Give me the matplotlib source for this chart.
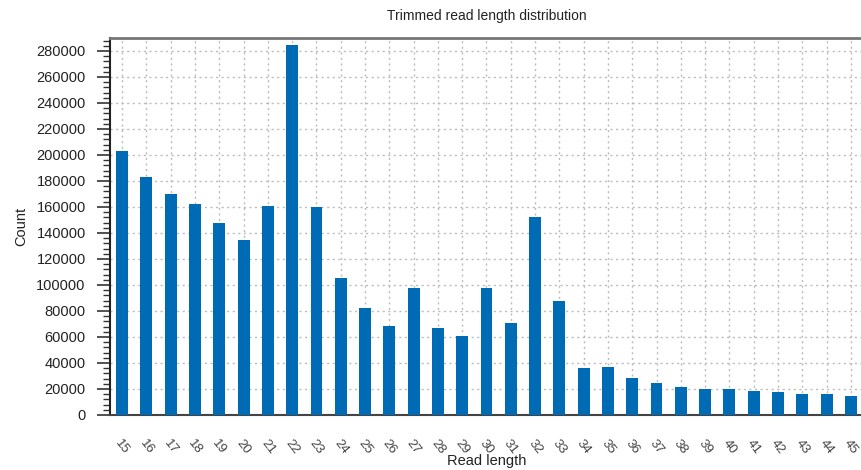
import numpy as np
import matplotlib
matplotlib.use('Agg')
import matplotlib.pyplot as plt
from matplotlib.ticker import MultipleLocator

plt.rcParams['font.family'] = ['Liberation Sans', 'DejaVu Sans']

# read lengths and counts
read_length = list(range(15, 46))
count = [203000, 183000, 170000, 162000, 148000, 135000, 161000, 285000,
         160000, 105600, 82500, 68500, 98000, 66700, 60500, 97400,
         70500, 152000, 87400, 35900, 36700, 28200, 24400, 21500,
         20000, 19700, 18700, 17900, 16400, 15900, 14600]

fig = plt.figure(figsize=(8.62, 4.70), dpi=100)
ax = fig.add_axes([110 / 862, 55 / 470, 753 / 862, 377 / 470])

ax.bar(read_length, count, width=0.49, color='#006BB5', zorder=3)

ax.set_xlim(14.5, 45.5)
ax.set_ylim(0, 290000)
ax.set_xticks(read_length)
ax.set_xticklabels([str(v) for v in read_length], rotation=-52,
                   ha='center', va='top', fontsize=9.5, color='#444444')
ax.yaxis.set_major_locator(MultipleLocator(20000))
ax.yaxis.set_minor_locator(MultipleLocator(4000))
ax.tick_params(axis='y', which='major', length=9.5, width=1.2, pad=8,
               labelsize=10.5, color='#333333', labelcolor='#222222')
ax.tick_params(axis='y', which='minor', length=5, width=1.0, color='#333333')
ax.tick_params(axis='x', length=0, pad=16)

ax.grid(True, which='major', linestyle=(0, (1.5, 2.5)), color='#bbbbbb',
        linewidth=1.0, zorder=0)

ax.spines['left'].set_color('#222222')
ax.spines['left'].set_linewidth(1.5)
ax.spines['bottom'].set_color('#444444')
ax.spines['bottom'].set_linewidth(1.5)
ax.spines['top'].set_color('#777777')
ax.spines['top'].set_linewidth(2)
ax.spines['right'].set_visible(False)

ax.set_title('Trimmed read length distribution', fontsize=10, color='#222222', pad=13)
ax.set_xlabel('Read length', fontsize=10.5, color='#222222', labelpad=-2)
ax.set_ylabel('Count', fontsize=10.5, color='#222222', labelpad=6)

fig.savefig('out.png', dpi=100)
